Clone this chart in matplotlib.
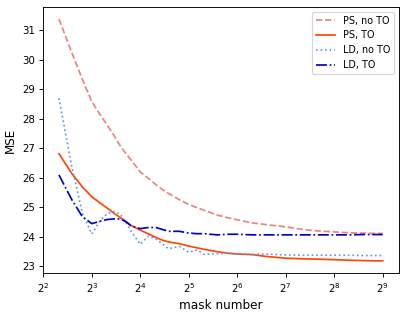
import matplotlib
matplotlib.use("Agg")
import matplotlib.pyplot as plt
from matplotlib.ticker import MultipleLocator

mask_number = [5, 6, 7, 8, 9, 10, 11, 12, 13, 14, 16, 18, 20, 22, 24, 28, 32,
               36, 40, 48, 56, 64, 80, 96, 128, 160, 192, 256, 320, 384, 448, 512]

ps_no_to = [31.38, 30.25, 29.33, 28.58, 28.14, 27.78, 27.43, 27.09, 26.83, 26.61,
            26.20, 25.98, 25.77, 25.60, 25.47, 25.26, 25.10, 24.99, 24.90, 24.74,
            24.65, 24.58, 24.47, 24.42, 24.34, 24.26, 24.21, 24.17, 24.14, 24.13,
            24.12, 24.12]

ps_to = [26.82, 26.15, 25.69, 25.36, 25.15, 24.97, 24.80, 24.66, 24.52, 24.39,
         24.23, 24.10, 23.98, 23.89, 23.83, 23.77, 23.69, 23.63, 23.58, 23.50,
         23.45, 23.42, 23.40, 23.34, 23.28, 23.26, 23.25, 23.23, 23.21, 23.20,
         23.19, 23.19]

ld_no_to = [28.70, 26.40, 24.80, 24.10, 24.55, 24.79, 24.86, 24.78, 24.50, 24.20,
            23.75, 24.03, 23.93, 23.76, 23.60, 23.68, 23.48, 23.56, 23.41, 23.43,
            23.45, 23.43, 23.41, 23.42, 23.39, 23.38, 23.38, 23.38, 23.38, 23.37,
            23.37, 23.37]

ld_to = [26.10, 25.27, 24.68, 24.45, 24.53, 24.59, 24.61, 24.61, 24.52, 24.38,
         24.28, 24.32, 24.32, 24.25, 24.19, 24.19, 24.13, 24.11, 24.11, 24.07,
         24.09, 24.09, 24.07, 24.07, 24.07, 24.07, 24.07, 24.07, 24.07, 24.08,
         24.08, 24.08]

dpi = 82
fig = plt.figure(figsize=(407 / dpi, 313 / dpi), dpi=dpi)
ax = fig.add_axes([0.105, 0.128, 0.875, 0.85])

ax.plot(mask_number, ps_no_to, color="lightcoral", linestyle="--", linewidth=1.5, label="PS, no TO")
ax.plot(mask_number, ps_to, color="orangered", linestyle="-", linewidth=1.5, label="PS, TO")
ax.plot(mask_number, ld_no_to, color="cornflowerblue", linestyle=":", linewidth=1.5, label="LD, no TO")
ax.plot(mask_number, ld_to, color="mediumblue", linestyle="-.", linewidth=1.5, label="LD, TO")

ax.set_xscale("log", base=2)
ax.yaxis.set_major_locator(MultipleLocator(1))
ax.tick_params(labelsize=9)
ax.set_xlabel("mask number", fontsize=10.5)
ax.set_ylabel("MSE", fontsize=10.5)
ax.legend(loc="upper right", fontsize=8.5)

fig.savefig("out.png", dpi=dpi)
